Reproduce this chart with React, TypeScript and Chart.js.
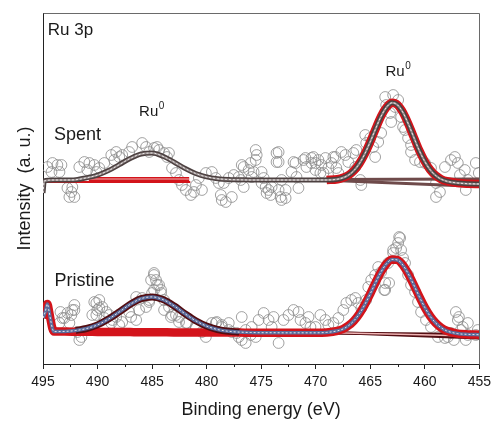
import React, { useEffect, useRef } from "react";
import { Chart, registerables } from "chart.js";
Chart.register(...registerables);

const FONT = '"Liberation Sans", Arial, Helvetica, sans-serif';

// axis
const X_MIN = 455;
const X_MAX = 495;
const X_MAJOR = 5;
const X_MINOR = 2.5;
const Y_MIN = 0;
const Y_MAX = 351;

// fitted-curve energy grid (eV)
const FIT_E = [494, 493, 492, 491, 490, 489, 488, 487, 486, 485, 484, 483, 482, 481, 480, 479, 478, 477, 476, 475, 474, 473, 472, 471, 470, 469, 468, 467.5, 467, 466.5, 466, 465.5, 465, 464.5, 464, 463.5, 463, 462.5, 462, 461.5, 461, 460.5, 460, 459.5, 459, 458.5, 458, 457, 456, 455];

// Spent: envelope
const SPENT_EDGE_E = [495, 494.95, 494.9];
const SPENT_EDGE_I = [171, 177, 183];
const spentEnvelope = [184, 184, 184.3, 186.2, 188.9, 193.4, 199.4, 205.6, 210, 211, 207.7, 202, 195.7, 190.5, 187.1, 185.3, 184.5, 184.2, 184, 184, 184, 184, 184, 184, 184, 184, 184.8, 186.2, 188.8, 193.4, 200.4, 210.1, 222.2, 235.4, 247.9, 256.9, 261.2, 259.1, 251.5, 239.9, 226.5, 213.4, 202.5, 194.1, 188.4, 184.8, 182.8, 181, 180.3, 180];
// Spent: Ru0 (485 eV) component and backgrounds
const spentFlatE = [495, 481.5];
const spentFlatI = [182, 182];
const spentCompE = [490.8, 481.6];
const spentCompI = [185, 185];
const spentBgE = [469.5, 455];
const spentBgA = [184.5, 185];
const spentBgB = [184, 177.5];

// Pristine: envelope
const PRISTINE_EDGE_E = [495, 494.8, 494.6, 494.45, 494.3, 494.15];
const PRISTINE_EDGE_I = [46, 52, 60, 53, 44, 36];
const pristineEnvelope = [32.4, 32.6, 33.5, 35.5, 39.1, 44.9, 52.1, 59.7, 65.4, 67.1, 64.4, 58.2, 50.4, 43.2, 37.9, 34.5, 32.7, 31.9, 31.5, 31.3, 31.3, 31.2, 31.2, 31.2, 31.2, 31.6, 33.2, 35, 38.3, 43.2, 50.2, 59.4, 70.2, 81.7, 92.3, 100.4, 104.6, 104, 98.8, 89.9, 78.9, 67.3, 56.6, 47.7, 41, 36.3, 33.2, 30.4, 29.6, 29.3];
const pristineRuComp = [32.4, 32.4, 32.3, 32.2, 32.1, 32, 32, 31.9, 31.8, 31.8, 31.7, 31.6, 31.6, 31.5, 31.5, 31.4, 31.4, 31.4, 31.3, 31.3, 31.3, 31.2, 31.2, 31.2, 31.2, 31.6, 33.2, 35, 38.3, 43.2, 50.2, 59.4, 70.2, 81.7, 92.3, 100.4, 104.6, 104, 98.8, 89.9, 78.9, 67.3, 56.6, 47.7, 41, 36.3, 33.2, 30.4, 29.6, 29.3];
const pristineBgE = [469.5, 455];
const pristineBgA = [32, 26];
const pristineBgB = [31, 29.5];
const pristineBgC = [31.5, 27.8];

// raw data points [eV, intensity]
const spentScatter: [number, number][] = [
  [494.59, 197], [494.22, 192], [494.13, 201], [493.68, 199], [493.49, 192], [493.31, 199],
  [492.76, 176], [492.58, 167], [492.40, 172], [492.31, 177], [492.12, 167],
  [491.67, 197], [491.21, 202], [490.94, 194], [490.75, 201], [490.30, 199], [490.11, 192], [489.84, 196], [489.38, 201],
  [488.74, 209], [488.47, 204], [488.29, 212], [488.01, 207], [487.74, 209], [487.10, 212], [486.83, 217], [485.91, 221],
  [485.55, 217], [485.27, 212], [484.82, 216], [484.54, 217], [484.36, 214], [483.90, 211], [483.63, 207], [483.45, 211],
  [483.17, 196], [482.81, 191], [482.53, 184], [482.26, 179], [481.90, 174], [481.44, 169], [481.16, 172], [480.98, 179],
  [480.71, 186], [480.43, 174], [480.07, 191], [479.52, 192], [479.16, 186], [478.88, 181], [478.70, 169], [478.61, 164],
  [478.43, 181], [478.24, 162], [477.97, 186], [477.69, 167], [477.51, 189], [477.06, 187], [476.87, 184], [476.78, 199],
  [476.60, 197], [476.60, 177], [476.14, 194], [475.96, 201], [475.87, 187], [475.69, 192], [475.50, 214], [475.41, 209],
  [475.50, 204], [474.96, 192], [474.96, 181], [474.77, 186], [474.59, 177], [474.50, 171], [474.32, 174], [474.13, 169],
  [474.04, 177], [473.59, 211], [473.59, 202], [473.40, 212], [473.40, 202], [473.40, 174], [473.22, 167], [473.13, 184],
  [473.13, 164], [472.76, 174], [472.76, 166], [472.22, 192], [472.03, 202], [471.85, 201], [471.76, 187], [471.58, 176],
  [471.12, 204], [470.94, 206], [470.85, 197], [470.39, 206], [470.39, 201], [470.21, 207], [470.02, 201], [470.02, 194],
  [469.75, 204], [469.57, 191], [469.48, 199], [469.29, 191], [469.11, 206], [468.84, 196], [468.56, 201], [468.38, 207],
  [468.20, 207], [468.11, 196], [467.92, 191], [467.65, 212], [467.28, 209], [467.01, 202], [466.55, 211], [466.37, 197],
  [466.28, 214], [465.91, 184], [465.82, 179], [465.46, 229], [465.37, 221], [465.00, 226], [464.73, 217], [464.55, 207],
  [464.27, 222], [464.00, 231], [463.63, 267], [463.54, 259], [463.18, 251], [463.08, 242], [462.90, 269], [462.72, 257],
  [462.44, 264], [462.17, 247], [461.99, 237], [461.81, 234], [461.53, 226], [461.26, 219], [461.26, 212], [460.89, 204],
  [460.44, 202], [459.98, 201], [459.43, 196], [458.97, 181], [458.97, 167], [458.61, 172], [458.15, 197], [457.60, 204],
  [457.24, 207], [456.97, 201], [456.78, 189], [456.33, 194], [456.24, 174], [456.05, 184], [455.32, 201], [455.05, 191],
];

const pristineScatter: [number, number][] = [
  [493.49, 41], [493.40, 52], [493.22, 46], [493.04, 46], [492.76, 51], [492.58, 41], [492.40, 49], [492.31, 54],
  [492.12, 54], [492.12, 59], [491.85, 32], [491.67, 24], [491.48, 27], [490.48, 49], [490.30, 62], [490.11, 61],
  [490.11, 49], [490.02, 54], [489.84, 64], [489.84, 56], [489.57, 57], [489.38, 46], [489.20, 52], [488.93, 49],
  [488.74, 41], [488.65, 44], [488.29, 47], [488.01, 39], [487.74, 42], [487.10, 52], [486.92, 47], [486.46, 67],
  [486.46, 44], [486.19, 54], [485.91, 66], [485.55, 57], [485.27, 64], [485.27, 62], [485.09, 84], [485.00, 71],
  [484.82, 89], [484.82, 91], [484.82, 74], [484.64, 84], [484.54, 79], [484.36, 79], [484.18, 74], [484.18, 71],
  [483.90, 64], [483.90, 54], [483.45, 57], [483.27, 47], [483.17, 49], [482.81, 49], [482.53, 47], [482.53, 42],
  [481.90, 41], [481.80, 41], [480.98, 36], [480.98, 37], [480.43, 32], [480.07, 27], [479.52, 41], [479.16, 41],
  [479.07, 42], [478.61, 39], [478.61, 37], [477.97, 34], [477.97, 41], [477.69, 32], [477.24, 31], [477.06, 27],
  [476.78, 24], [476.78, 47], [476.42, 21], [476.42, 34], [475.96, 29], [475.87, 37], [475.50, 27], [475.23, 44],
  [474.77, 51], [474.32, 44], [474.04, 37], [473.86, 47], [473.40, 21], [472.95, 44], [472.49, 49], [472.03, 54],
  [471.58, 52], [471.39, 44], [470.94, 41], [470.66, 47], [470.48, 37], [470.02, 37], [469.57, 49], [469.11, 44],
  [468.84, 39], [468.38, 41], [467.92, 46], [467.47, 54], [467.19, 61], [466.74, 64], [466.37, 66], [466.10, 61],
  [465.82, 56], [465.37, 64], [465.18, 77], [464.91, 84], [464.55, 89], [464.27, 97], [464.00, 92], [463.72, 74],
  [463.63, 81], [463.63, 74], [463.36, 101], [463.27, 81], [462.90, 111], [462.90, 114], [462.63, 116], [462.44, 121],
  [462.35, 127], [462.26, 126], [462.17, 114], [461.99, 106], [461.81, 101], [461.53, 89], [461.26, 79], [460.89, 72],
  [460.62, 62], [460.34, 52], [459.89, 44], [459.43, 37], [458.79, 27], [458.15, 26], [457.88, 27], [457.60, 31],
  [457.33, 24], [457.15, 52], [456.97, 44], [456.87, 47], [456.69, 34], [456.52, 37], [456.24, 24], [456.05, 29],
  [456.05, 41], [455.32, 29], [455.14, 34],
];

// text annotations (eV, intensity)
const ANNOTATIONS = [
  { text: "Ru 3p", sup: "", e: 494.56, v: 329, size: 17 },
  { text: "Spent", sup: "", e: 494.0, v: 224.5, size: 18 },
  { text: "Pristine", sup: "", e: 493.95, v: 78.5, size: 18 },
  { text: "Ru", sup: "0", e: 486.19, v: 248, size: 15 },
  { text: "Ru", sup: "0", e: 463.6, v: 288, size: 15 },
];

const C = {
  text: "#1a1a1a",
  axis: "#222222",
  frame: "#6a6a6a",
  circle: "#8a8a8a",
  red: "#d3141b",
  pink: "#f0b4b4",
  spentOuter: "#4c4040",
  spentInner: "#958c8c",
  brown: "#6e4a4a",
  maroon: "#530d12",
  blue: "#5a6b9b",
  dash: "rgba(240,236,236,0.95)",
};

const toPts = (xs: number[], ys: number[]) => xs.map((x, i) => ({ x, y: ys[i] }));

function line(xs: number[], ys: number[], color: string, width: number, order: number, dash: number[] = []) {
  return {
    type: "line" as const,
    data: toPts(xs, ys),
    borderColor: color,
    borderWidth: width,
    pointRadius: 0,
    fill: false,
    cubicInterpolationMode: "monotone" as const,
    borderDash: dash,
    borderCapStyle: "butt" as const,
    borderJoinStyle: "round" as const,
    order,
  };
}

function scatter(pairs: [number, number][]) {
  return {
    type: "line" as const,
    data: pairs.map(([x, y]) => ({ x, y })),
    showLine: false,
    pointRadius: 5.4,
    pointStyle: "circle",
    pointBorderColor: C.circle,
    pointBackgroundColor: "rgba(255,255,255,0)",
    pointBorderWidth: 0.8,
    order: 100,
  };
}

const overlayPlugin = {
  id: "overlay",
  afterDraw(chart: any) {
    const { ctx, chartArea, scales } = chart;
    const xs = scales.x;
    const ys = scales.y;
    ctx.save();
    // top & right frame
    ctx.strokeStyle = C.frame;
    ctx.lineWidth = 1;
    ctx.beginPath();
    ctx.moveTo(Math.round(chartArea.left) + 0.5, Math.round(chartArea.top) + 0.5);
    ctx.lineTo(Math.round(chartArea.right) + 0.5, Math.round(chartArea.top) + 0.5);
    ctx.lineTo(Math.round(chartArea.right) + 0.5, Math.round(chartArea.bottom) + 0.5);
    ctx.stroke();
    // minor ticks
    ctx.strokeStyle = C.axis;
    ctx.beginPath();
    for (let e = X_MIN + X_MINOR; e < X_MAX; e += X_MAJOR) {
      const px = Math.round(xs.getPixelForValue(e)) + 0.5;
      ctx.moveTo(px, chartArea.bottom);
      ctx.lineTo(px, chartArea.bottom + 3);
    }
    ctx.stroke();
    // annotations
    ctx.fillStyle = C.text;
    ctx.textBaseline = "alphabetic";
    ctx.textAlign = "left";
    for (const a of ANNOTATIONS) {
      const px = xs.getPixelForValue(a.e);
      const py = ys.getPixelForValue(a.v);
      ctx.font = `${a.size}px ${FONT}`;
      ctx.fillText(a.text, px, py);
      if (a.sup) {
        const w = ctx.measureText(a.text).width;
        ctx.font = `${Math.round(a.size * 0.65)}px ${FONT}`;
        ctx.fillText(a.sup, px + w + 0.5, py - a.size * 0.45);
      }
    }
    ctx.restore();
  },
};

export default function App() {
  const ref = useRef<HTMLCanvasElement | null>(null);

  useEffect(() => {
    if (!ref.current) return;
    const spentE = [...SPENT_EDGE_E, ...FIT_E];
    const spentI = [...SPENT_EDGE_I, ...spentEnvelope];
    const spentPeak2E = FIT_E.slice(25);
    const spentPeak2I = spentEnvelope.slice(25);
    const priE = [...PRISTINE_EDGE_E, ...FIT_E];
    const priI = [...PRISTINE_EDGE_I, ...pristineEnvelope];
    const priRedI = [...PRISTINE_EDGE_I, ...pristineRuComp];
    const priPeak1E = FIT_E.slice(2, 18);
    const priPeak1I = pristineEnvelope.slice(2, 18);

    const datasets: any[] = [
      scatter(spentScatter),
      scatter(pristineScatter),
      // spent
      line(spentFlatE, spentFlatI, C.red, 2, 60),
      line(spentCompE, spentCompI, C.red, 4, 59),
      line(spentCompE, spentCompI, C.pink, 1, 58),
      line(spentBgE, spentBgA, C.brown, 3, 57),
      line(spentBgE, spentBgB, C.brown, 3, 56),
      line(spentPeak2E, spentPeak2I, C.red, 8.5, 50),
      line(spentE, spentI, C.spentOuter, 5, 40),
      line(spentE, spentI, C.spentInner, 2, 39),
      line(spentE, spentI, C.dash, 1, 38, [2, 2]),
      // pristine
      line(pristineBgE, pristineBgA, C.maroon, 3, 57),
      line(pristineBgE, pristineBgB, C.maroon, 3, 56),
      line(pristineBgE, pristineBgC, C.pink, 1.5, 55),
      line(priE, priRedI, C.red, 8.5, 50),
      line(priPeak1E, priPeak1I, C.maroon, 7, 45),
      line(priE, priI, C.blue, 3.5, 40),
      line(priE, priI, C.dash, 1, 38, [2, 2]),
    ];

    const chart = new Chart(ref.current, {
      type: "line",
      data: { datasets },
      options: {
        responsive: false,
        animation: false,
        layout: { padding: { top: 13, right: 15, bottom: 0, left: 0 } },
        plugins: { legend: { display: false }, tooltip: { enabled: false } },
        scales: {
          x: {
            type: "linear",
            reverse: true,
            min: X_MIN,
            max: X_MAX,
            ticks: {
              stepSize: X_MAJOR,
              color: C.text,
              font: { family: FONT, size: 14 },
              padding: 5,
              maxRotation: 0,
              autoSkip: false,
            },
            grid: { display: true, drawOnChartArea: false, drawTicks: true, tickLength: 5, color: C.axis, tickColor: C.axis },
            border: { display: true, color: C.axis, width: 1 },
            title: {
              display: true,
              text: "Binding energy (eV)",
              color: C.text,
              font: { family: FONT, size: 18 },
              padding: { top: 0, bottom: 2 },
            },
            afterFit: (s: any) => {
              s.height = 59;
            },
          },
          y: {
            type: "linear",
            min: Y_MIN,
            max: Y_MAX,
            ticks: { display: false },
            grid: { display: false },
            border: { display: true, color: C.axis, width: 1 },
            title: {
              display: true,
              text: "Intensity  (a. u.)",
              color: C.text,
              font: { family: FONT, size: 18 },
              padding: { top: 14, bottom: 0 },
            },
            afterFit: (s: any) => {
              s.width = 43;
            },
          },
        },
      } as any,
      plugins: [overlayPlugin],
    });
    return () => chart.destroy();
  }, []);

  return (
    <div style={{ position: "fixed", left: 0, top: 0, width: 496, height: 423, background: "#fff" }}>
      <canvas ref={ref} width={496} height={423} style={{ display: "block", width: 496, height: 423 }} />
    </div>
  );
}
